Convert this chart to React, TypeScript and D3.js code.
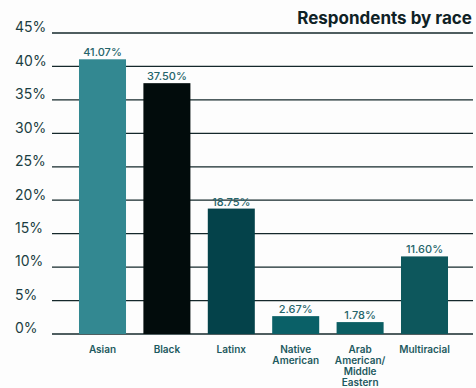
import React from "react";
import * as d3 from "d3";

const categories: string[][] = [
  ["Asian"],
  ["Black"],
  ["Latinx"],
  ["Native", "American"],
  ["Arab", "American/", "Middle", "Eastern"],
  ["Multiracial"],
];
const values = [41.07, 37.5, 18.75, 2.67, 1.78, 11.6];
const valueLabels = ["41.07%", "37.50%", "18.75%", "2.67%", "1.78%", "11.60%"];
const barColors = ["#338891", "#020c0c", "#04424a", "#0a6067", "#0b5e63", "#0d575c"];
const yTicks = [0, 5, 10, 15, 20, 25, 30, 35, 40, 45];
const title = "Respondents by race";

export default function App() {
  const W = 476;
  const H = 388;
  const keys = categories.map((c) => c.join(" "));
  const x = d3
    .scaleBand<string>()
    .domain(keys)
    .range([70.3, 456.7])
    .paddingInner(0.27)
    .paddingOuter(0.135);
  const y = d3.scaleLinear().domain([0, 45]).range([334, 33]);
  const font = "Inter, 'Noto Sans', sans-serif";

  return (
    <svg
      width={W}
      height={H}
      style={{ position: "absolute", left: 0, top: 0, background: "#fdfdfd" }}
    >
      <text
        x={472}
        y={24}
        textAnchor="end"
        fontFamily={font}
        fontWeight={700}
        fontSize={17}
        fill="#0f2226"
      >
        {title}
      </text>
      {yTicks.map((t) => (
        <g key={t}>
          <line
            x1={52}
            x2={473}
            y1={y(t)}
            y2={y(t)}
            stroke="#15282b"
            strokeWidth={1.3}
          />
          <text
            x={15}
            y={y(t)}
            dy="-0.05em"
            fontFamily={font}
            fontSize={14}
            fill="#1b3d42"
          >
            {t}%
          </text>
        </g>
      ))}
      {values.map((v, i) => {
        const k = keys[i];
        const bx = x(k)!;
        const bw = x.bandwidth();
        return (
          <g key={k}>
            <rect x={bx} y={y(v)} width={bw} height={y(0) - y(v)} fill={barColors[i]} />
            <text
              x={bx + bw / 2}
              y={y(v) - 3}
              textAnchor="middle"
              fontFamily={font}
              fontWeight={500}
              fontSize={11}
              fill="#25646a"
            >
              {valueLabels[i]}
            </text>
            {categories[i].map((line, j) => (
              <text
                key={j}
                x={bx + bw / 2}
                y={353 + j * 11}
                textAnchor="middle"
                fontFamily={font}
                fontWeight={600}
                fontSize={10}
                fill="#1d5a60"
              >
                {line}
              </text>
            ))}
          </g>
        );
      })}
    </svg>
  );
}
